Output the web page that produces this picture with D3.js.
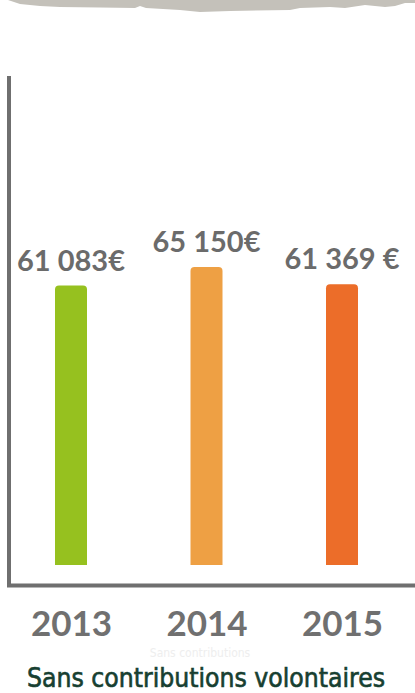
<!DOCTYPE html>
<html><head><meta charset="utf-8">
<script src="https://cdn.jsdelivr.net/npm/d3@7"></script>
<style>html,body{margin:0;padding:0;background:#fff;}svg{display:block;}</style>
</head><body>
<svg id="c" width="415" height="693"></svg>
<script>
const years = ["2013", "2014", "2015"];
const values = [61083, 65150, 61369];
const valueLabels = ["61 083€", "65 150€", "61 369 €"];
const barColors = ["#96c11f", "#eea044", "#ec6d29"];
const caption = "Sans contributions volontaires";
const ghostCaption = "Sans contributions";

const svg = d3.select("#c");
const W = 415, H = 693;

// top brush band
const bandPts = [[8,0],[14,2],[20,4],[40,6],[60,7],[100,7.5],[135,8],[140,6],[146,8],[180,10],[200,12],[230,11],[290,10],[300,8],[330,7],[345,8],[365,5],[385,7],[395,6],[405,3],[415,3],[415,0]];
svg.append("path").attr("d", d3.line().curve(d3.curveLinear)(bandPts) + "Z").attr("fill", "#c4c1ba");

const x = d3.scalePoint().domain(years).range([71, 342]);
const y = d3.scaleLinear().domain([0, 65150]).range([565, 267]);
const bw = 32, r = 4;

// axes lines
svg.append("line").attr("x1", 9).attr("x2", 9).attr("y1", 76).attr("y2", 587).attr("stroke", "#6f6f6f").attr("stroke-width", 4);
svg.append("line").attr("x1", 7).attr("x2", W).attr("y1", 585.5).attr("y2", 585.5).attr("stroke", "#6f6f6f").attr("stroke-width", 4);

// bars
function barPath(x0, y0, w, h, rad) {
  return `M${x0},${y0+h}V${y0+rad}Q${x0},${y0} ${x0+rad},${y0}H${x0+w-rad}Q${x0+w},${y0} ${x0+w},${y0+rad}V${y0+h}Z`;
}
const data = years.map((yr, i) => ({yr, v: values[i], lab: valueLabels[i], c: barColors[i]}));
svg.selectAll("path.bar").data(data).join("path").attr("class", "bar")
  .attr("d", d => barPath(x(d.yr) - bw/2, y(d.v), bw, y(0) - y(d.v), r))
  .attr("fill", d => d.c);

svg.selectAll("text.val").data(data).join("text").attr("class", "val")
  .attr("x", d => x(d.yr)).attr("y", d => y(d.v) - 15)
  .attr("text-anchor", "middle")
  .attr("font-family", "Lato, 'Open Sans', sans-serif").attr("font-weight", "bold")
  .attr("font-size", 29).attr("fill", "#6b6b6b")
  .text(d => d.lab);

// year axis
const ax = svg.append("g").attr("transform", "translate(0,600)")
  .call(d3.axisBottom(x).tickSize(0).tickPadding(0));
ax.select(".domain").remove();
ax.selectAll("text").attr("dy", null).attr("y", 36)
  .attr("font-family", "Lato, 'Open Sans', sans-serif").attr("font-weight", "bold")
  .attr("font-size", 35).attr("fill", "#707070");

// faint ghost text
svg.append("text").attr("x", 200).attr("y", 657).attr("text-anchor", "middle")
  .attr("font-family", "'DejaVu Sans Condensed', sans-serif").attr("font-size", 12)
  .attr("fill", "#eeeeee").text(ghostCaption);

svg.append("text").attr("x", 27).attr("y", 687)
  .attr("font-family", "'DejaVu Sans Condensed', 'Noto Sans', sans-serif").attr("font-size", 26)
  .attr("textLength", 358).attr("lengthAdjust", "spacingAndGlyphs")
  .attr("fill", "#173f31").attr("stroke", "#173f31").attr("stroke-width", 0.6)
  .text(caption);
</script>
</body></html>
